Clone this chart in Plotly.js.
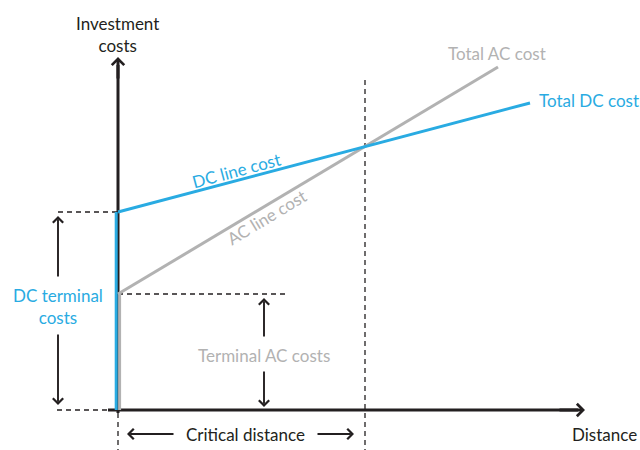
<!DOCTYPE html>
<html>
<head>
<meta charset="utf-8">
<script src="https://cdn.plot.ly/plotly-3.0.1.min.js"></script>
<style>html,body{margin:0;padding:0;background:#fff;}#chart{width:640px;height:450px;}</style>
</head>
<body>
<div id="chart"></div>
<script>
// ---- data (conceptual units: distance, investment cost) ----
const dcDistance = [0, 0, 412];
const dcCost = [0, 198, 307];
const acDistance = [0, 0, 380];
const acCost = [0, 116, 343];
const criticalDistance = 247;
const criticalCost = 263;
const dcTerminalCost = 198;
const acTerminalCost = 116;
const labels = {
  yTitle: 'Investment<br>costs',
  xTitle: 'Distance',
  totalAC: 'Total AC cost',
  totalDC: 'Total DC cost',
  dcLine: 'DC line cost',
  acLine: 'AC line cost',
  dcTerminal: 'DC terminal<br>costs',
  acTerminal: 'Terminal AC costs',
  critical: 'Critical distance'
};

const BLUE = '#29abe2', GRAY = '#b2b2b2', BLACK = '#231f20';
const FONT = 'Lato, "Open Sans", sans-serif';
const FS = 17;

const traces = [
  // axes lines
  {x: [0, 0], y: [-3, 345], mode: 'lines', line: {color: BLACK, width: 3}, hoverinfo: 'skip'},
  {x: [-10, 460], y: [0, 0], mode: 'lines', line: {color: BLACK, width: 3}, hoverinfo: 'skip'},
  // terminal verticals
  {x: [dcDistance[0] - 1.8, dcDistance[1] - 1.8], y: [dcCost[0], dcCost[1]], mode: 'lines', line: {color: BLUE, width: 3}, hoverinfo: 'skip'},
  {x: [acDistance[0] + 1.6, acDistance[1] + 1.6], y: [acCost[0], acCost[1]], mode: 'lines', line: {color: GRAY, width: 3}, hoverinfo: 'skip'},
  // cost lines
  {x: acDistance.slice(1), y: acCost.slice(1), mode: 'lines', line: {color: GRAY, width: 3}, hoverinfo: 'skip'},
  {x: dcDistance.slice(1), y: dcCost.slice(1), mode: 'lines', line: {color: BLUE, width: 3}, hoverinfo: 'skip'}
];

const dashed = (x0, y0, x1, y1) => ({type: 'line', x0, y0, x1, y1, xref: 'x', yref: 'y', layer: 'below',
  line: {color: BLACK, width: 1.3, dash: '5px,4px'}});

const shapes = [
  dashed(-60, dcTerminalCost, 0, dcTerminalCost),
  dashed(0, acTerminalCost, 167, acTerminalCost),
  dashed(-61, 0, -10, 0),
  dashed(criticalDistance, 330, criticalDistance, -40),
  dashed(0, -3, 0, -40)
];

const arrow = (x, y, ax, ay, w, s) => ({x, y, ax, ay, xref: 'x', yref: 'y', axref: 'x', ayref: 'y',
  text: '', showarrow: true, arrowhead: 4, arrowsize: s, arrowwidth: w, arrowcolor: BLACK});
const txt = (x, y, text, color, extra) => Object.assign({x, y, xref: 'x', yref: 'y', text, showarrow: false,
  font: {family: FONT, size: FS, color}, xanchor: 'center', yanchor: 'middle'}, extra || {});

const annotations = [
  arrow(0, 353, 0, 330, 3, 0.8),
  arrow(467, 0, 440, 0, 3, 0.8),
  arrow(-60, 194, -60, 132, 1.9, 1.05),
  arrow(-60, 5, -60, 77, 1.9, 1.05),
  arrow(146, 112, 146, 72, 1.9, 1.05),
  arrow(146, 3, 146, 40, 1.9, 1.05),
  arrow(9, -24, 57, -24, 1.9, 1.05),
  arrow(236, -24, 198, -24, 1.9, 1.05),
  txt(-1, 376, labels.yTitle, BLACK),
  txt(486, -24, labels.xTitle, BLACK),
  txt(379, 357, labels.totalAC, GRAY),
  txt(471, 310, labels.totalDC, BLUE),
  txt(118, 240, labels.dcLine, BLUE, {textangle: -15}),
  txt(148, 193, labels.acLine, GRAY, {textangle: -31}),
  txt(-60, 104, labels.dcTerminal, BLUE),
  txt(146, 55, labels.acTerminal, GRAY),
  txt(127, -24, labels.critical, BLACK)
];

const layout = {
  width: 640, height: 450,
  margin: {l: 0, r: 0, t: 0, b: 0},
  paper_bgcolor: '#fff', plot_bgcolor: '#fff',
  showlegend: false,
  xaxis: {range: [-118, 522], visible: false, fixedrange: true},
  yaxis: {range: [-40, 410], visible: false, fixedrange: true},
  shapes, annotations,
  font: {family: FONT}
};

Plotly.newPlot('chart', traces, layout, {staticPlot: true, displayModeBar: false});
</script>
</body>
</html>
